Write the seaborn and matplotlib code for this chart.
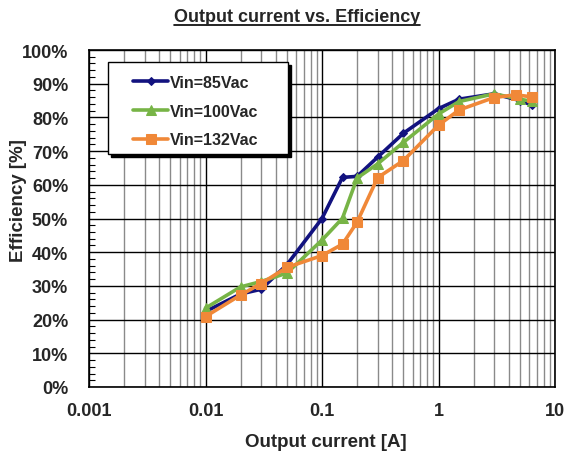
import numpy as np
import pandas as pd
import matplotlib
matplotlib.use("Agg")
import matplotlib.pyplot as plt
from matplotlib.ticker import FuncFormatter, MultipleLocator, LogLocator, NullFormatter
from matplotlib.lines import Line2D
from matplotlib.patches import Rectangle
import seaborn as sns

# Measured efficiency vs. output current at three input voltages
current_85 = [0.01, 0.02, 0.03, 0.05, 0.1, 0.15, 0.2, 0.3, 0.5, 1, 1.5, 3, 5, 6.3]
eff_85 = [22.4, 27.6, 29.0, 36.3, 50.0, 62.2, 62.5, 68.2, 75.3, 82.6, 85.4, 87.0, 85.0, 83.7]

current_100 = [0.01, 0.02, 0.03, 0.05, 0.1, 0.15, 0.2, 0.3, 0.5, 1, 1.5, 3, 5, 6.3]
eff_100 = [23.4, 29.7, 31.3, 33.8, 43.6, 50.1, 62.0, 66.2, 72.6, 81.0, 84.7, 87.0, 85.4, 84.8]

current_132 = [0.01, 0.02, 0.03, 0.05, 0.1, 0.15, 0.2, 0.3, 0.5, 1, 1.5, 3, 4.6, 6.3]
eff_132 = [20.9, 27.3, 30.7, 35.5, 39.0, 42.4, 48.9, 62.1, 67.2, 77.7, 82.2, 85.9, 86.7, 86.1]

series_labels = ["Vin=85Vac", "Vin=100Vac", "Vin=132Vac"]

sns.set_theme(style="white")
plt.rcParams["font.family"] = ["Liberation Sans", "DejaVu Sans"]
plt.rcParams["font.weight"] = "bold"

W, H = 566, 460
fig = plt.figure(figsize=(W / 100, H / 100), dpi=100)
ax = fig.add_axes([89 / W, 1 - 388 / H, 466 / W, 337 / H])

styles = [
    (current_85, eff_85, "#12127f", "D", 4.5),
    (current_100, eff_100, "#77b446", "^", 7),
    (current_132, eff_132, "#f08838", "s", 7),
]
for (xs, ys, color, marker, msize), label in zip(styles, series_labels):
    df = pd.DataFrame({"current": xs, "eff": ys})
    sns.lineplot(data=df, x="current", y="eff", ax=ax, color=color, marker=marker,
                 markersize=msize, markeredgecolor=color, linewidth=2.6,
                 sort=False, label=label, zorder=3)

ax.set_xscale("log")
ax.set_xlim(0.001, 10)
ax.set_ylim(0, 100)

# Grid: black decades and 10% rows, gray sub-decade columns
ax.xaxis.set_major_locator(LogLocator(base=10, numticks=10))
ax.xaxis.set_minor_locator(LogLocator(base=10, subs=np.arange(2, 10), numticks=20))
ax.xaxis.set_minor_formatter(NullFormatter())
ax.xaxis.set_major_formatter(FuncFormatter(lambda v, p: f"{v:g}"))
ax.yaxis.set_major_locator(MultipleLocator(10))
ax.yaxis.set_minor_locator(MultipleLocator(2))
ax.yaxis.set_major_formatter(FuncFormatter(lambda v, p: f"{v:.0f}%"))

ax.grid(which="major", axis="both", color="black", linewidth=1.0, zorder=1)
ax.grid(which="minor", axis="x", color="#8a8a8a", linewidth=1.0, zorder=1)
ax.set_axisbelow(True)

ax.tick_params(axis="y", which="major", length=0, labelsize=13, pad=15)
ax.tick_params(axis="x", which="major", length=0, labelsize=13, pad=11)
ax.tick_params(axis="y", which="minor", direction="in", length=4, width=0.8,
               color="black", left=True)
ax.tick_params(axis="x", which="minor", length=0)
for lbl in ax.get_xticklabels() + ax.get_yticklabels():
    lbl.set_fontweight("bold")

for spine in ax.spines.values():
    spine.set_color("black")
    spine.set_linewidth(1.2)

ax.set_xlabel("Output current [A]", fontsize=13.5, fontweight="bold")
ax.xaxis.set_label_coords((326 - 89) / 466, (388 - 434) / 337)
ax.set_ylabel("Efficiency [%]", fontsize=13.5, fontweight="bold")
ax.yaxis.set_label_coords((27 - 89) / 466, (388 - 201) / 337)

# Legend box with a solid drop shadow, drawn in axes coordinates
box_x0, box_y0 = (108 - 89) / 466, (388 - 155) / 337
box_w, box_h = 180 / 466, 92 / 337
shadow = Rectangle((box_x0 + 3 / 466, box_y0 - 3 / 337), box_w, box_h,
                   transform=ax.transAxes, facecolor="black", edgecolor="black",
                   zorder=4)
frame = Rectangle((box_x0, box_y0), box_w, box_h, transform=ax.transAxes,
                  facecolor="white", edgecolor="black", linewidth=1.0, zorder=4.1)
ax.add_patch(shadow)
ax.add_patch(frame)

leg = ax.legend(loc="upper left", bbox_to_anchor=((133 - 89) / 466, (388 - 76) / 337),
                frameon=False, fontsize=11.5, handlelength=2.2, labelspacing=0.85,
                borderpad=0, handletextpad=0.1, borderaxespad=0)
for t in leg.get_texts():
    t.set_fontweight("bold")
leg.set_zorder(5)

title = fig.text(297 / W, 1 - 17 / H, "Output current vs. Efficiency", ha="center",
                 va="center", fontsize=13, fontweight="bold")

# Underline the title
fig.canvas.draw()
bb = title.get_window_extent().transformed(fig.transFigure.inverted())
fig.add_artist(Line2D([bb.x0, bb.x1], [bb.y0 - 0.002, bb.y0 - 0.002],
                      transform=fig.transFigure, color="black", linewidth=1.2))

fig.savefig("out.png", dpi=100)
